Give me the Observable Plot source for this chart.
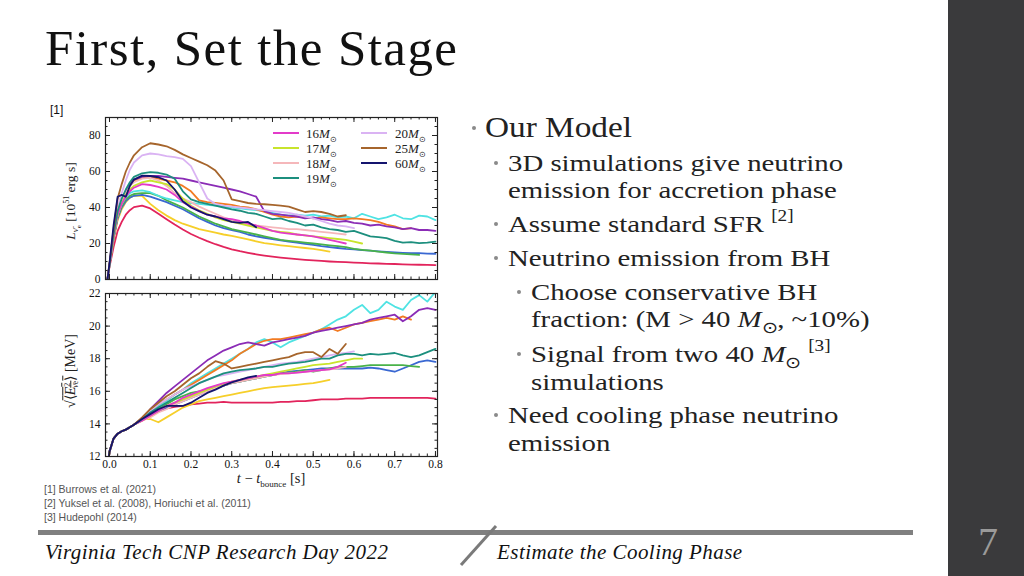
<!DOCTYPE html>
<html><head><meta charset="utf-8">
<script src="https://cdn.jsdelivr.net/npm/d3@7"></script>
<script src="https://cdn.jsdelivr.net/npm/@observablehq/plot@0.6"></script>
<style>
html,body{margin:0;padding:0;background:#fff;}
#slide{position:relative;width:1024px;height:576px;overflow:hidden;background:#fff;}
.abs{position:absolute;white-space:nowrap;}
.body{font-family:"Liberation Serif",serif;color:#222;line-height:1;transform-origin:0 0;}
.dot{position:absolute;width:4px;height:4px;border-radius:50%;background:#8a8a8a;}
.sup{position:relative;top:-11px;font-size:16px;}
.msub{position:relative;top:6px;font-size:16px;line-height:0;}
.leg{position:absolute;font-family:"Liberation Serif",serif;font-size:13px;color:#222;line-height:1;white-space:nowrap;}
.legline{position:absolute;height:0;width:26px;border-top:2px solid;}
.ref{position:absolute;font-family:"Liberation Sans",Arial,sans-serif;font-size:10.5px;color:#555;line-height:1;white-space:nowrap;}
</style></head>
<body><div id="slide">
  <div class="abs" style="left:948px;top:0;width:76px;height:576px;background:#3a3a3c"></div>
  <div class="abs" style="left:978px;top:522px;font-family:'Liberation Serif',serif;font-size:40px;color:#9a9a9a;line-height:1">7</div>
  <div class="abs" style="left:45px;top:23px;font-family:'Liberation Serif',serif;font-size:51px;letter-spacing:1.4px;color:#111;line-height:1">First, Set the Stage</div>
  <div class="ref" style="left:50px;top:104px;font-size:12px;color:#111">[1]</div>
  <div id="plots"></div>
  <div id="texts"></div>
  <div class="ref" style="left:44px;top:484px">[1] Burrows et al. (2021)</div>
  <div class="ref" style="left:44px;top:498px">[2] Yuksel et al. (2008), Horiuchi et al. (2011)</div>
  <div class="ref" style="left:44px;top:512px">[3] Hudepohl (2014)</div>
  <div class="abs" style="left:38px;top:530px;width:875px;height:5px;background:#808080"></div>
  <svg class="abs" style="left:0;top:0" width="1024" height="576"><line x1="496" y1="526" x2="461" y2="565" stroke="#7a7a7a" stroke-width="3"/></svg>
  <div class="abs" style="left:45px;top:542px;font-family:'Liberation Serif',serif;font-style:italic;font-size:21px;letter-spacing:0.45px;color:#111;line-height:1">Virginia Tech CNP Research Day 2022</div>
  <div class="abs" style="left:497px;top:542px;font-family:'Liberation Serif',serif;font-style:italic;font-size:21px;letter-spacing:0.45px;color:#111;line-height:1">Estimate the Cooling Phase</div>
</div>
<script>
// ---------- data ----------
const tGrid = [-0.005,0,0.01,0.02,0.03,0.04,0.05,0.06,0.08,0.10,0.12,0.14,0.16,0.18,0.20,0.22,0.24,0.26,0.28,0.30,0.32,0.34,0.36,0.38,0.40,0.42,0.44,0.46,0.48,0.50,0.52,0.54,0.56,0.58,0.60,0.62,0.64,0.66,0.68,0.70,0.72,0.74,0.76,0.78,0.80];

// luminosity [10^51 erg/s]
const L_red = [0,7,18,27,32,36,38.5,40.2,41,39.5,36.5,33.5,30.5,27.8,25.3,23.2,21.3,19.6,18.1,16.8,15.7,14.8,14,13.3,12.7,12.2,11.7,11.3,10.9,10.6,10.3,10,9.8,9.6,9.4,9.2,9,8.9,8.7,8.6,8.4,8.3,8.2,8.1,8];
const L_yellow = [0,8,22,33,39,43,45.5,46.5,46.5,42,38.5,35.5,33,31,29.5,28,27,26,25,24.2,23.3,22.3,21.2,20.2,19.6,19,18.5,18,17.5,17,16.3,15.5];
const L_blue = [0,8,23,34,40,43.5,45.5,46.5,47,46,44.5,43,41,39,36.5,34,32,30,28.5,27.5,26.5,25,24,23.2,22.5,21.8,21,20.5,19.8,19.2,18.5,18,17.5,17,16.8,16.3,16,15.6,15.3,15,14.8,14.7,14.6,14.4,14.3];
const L_green = [0,8,23,35,41,44.5,46.5,47.5,48,48,46.5,44,42,40,37.5,35,33,31,29.5,28,27,26,25,24,23,22,21.5,21,20.5,20,19.5,19,18.5,18,17,16.5,16,15.5,15,14.5,14.2,14,13.7];
const L_cyan = [0,8,24,36,42,45.5,48,49,49.5,48.5,46.5,45,44,43,42.5,42,41.5,41,40.5,40,39.5,39,38.5,38,37,36,35.5,36,35.5,36,35,35.5,34.5,35,34,36.5,35,33.5,34.5,36,34,33.5,35.5,35,33];
const L_orange = [0,8,24,37,44,49,53,55,56.5,57,56,55,54,52,49,44,43,42.5,42,41.5,40.5,40,39,37.5,36,35,34.5,35,34.5,34,34.5,34,33.5,33.5,34,33.5,33,32,30.5,29.5,28,28.5];
const L_purple = [0,8,24,37,44,49,53,55.5,57,57.5,57.5,57,56.5,56,55,54,53,52,51,50,49,47.5,46,38,36.5,36,35.5,35,34,34.5,33.5,33,32,32.5,31.5,31,30,30.5,29.5,29,28,28.5,27.5,27.5,27];
const L_18 = [0,8,24,36,43,48,52,54,56,56.5,55,52,48,45,43,40.5,38.5,36.5,34.5,33,32,31,30,29.5,29,28.5,28,28,27.5,27,26.5,26,25.5,25];
const L_17 = [0,8,24,36,42,47,50,52,54,55,54,53,50,45,41,38.5,36.5,34.5,33,32,31,30,29,28,27,26.5,26,25,24.5,24,23.5,23,22.5,22,21,20];
const L_16 = [0,8,24,36,42,46,49,51,53,52.5,51.5,50,47,43,40.5,38,36,35,34,33.5,32.5,31,30,28.5,27,26,25.5,25,24.5,24,23,22,21,20];
const L_20 = [0,8,26,40,48,55,61,65,69,70,69.5,68.5,68,67,63,54,45,42,41,40.5,40,39.5,39,38.5,38,37.5,37,36,35,34,32.5,31,30,29.5,28.5];
const L_19 = [0,8,25,38,45,50,54,57,59,59.6,59.3,58.3,56,49,44.5,43,42,41,40,39,38.2,37,36.5,35,33.5,34,32.5,31.5,30,30.5,29,28,27.5,26.5,27,25.5,24,23.5,23,21.5,20.5,20.8,20.2,20.5,21];
const L_25 = [0,9,28,45,53,60,65,69,73.5,75.7,75,74,72,69.5,67.5,65.5,63.5,60.5,55,44.5,43.5,42.5,42,41.8,41.5,41,40.5,39,37.5,38,37.5,36.5,35,35.7];
const L_60 = [0,9,30,46,47,46,52,55.5,57.7,57.5,56.8,55,50,43.5,40,38,36,35,33.5,32,31.5,32,29];

// rms energy [MeV]
const E_red = [11.2,12.3,13.1,13.4,13.55,13.65,13.8,13.95,14.3,14.6,14.8,14.95,15.05,15.1,15.2,15.25,15.3,15.3,15.35,15.3,15.3,15.3,15.3,15.3,15.3,15.35,15.35,15.4,15.4,15.45,15.5,15.5,15.5,15.55,15.55,15.55,15.6,15.6,15.6,15.6,15.6,15.6,15.6,15.6,15.55];
const E_yellow = [11.2,12.3,13.1,13.4,13.55,13.65,13.8,13.95,14.3,14.3,14.1,14.4,14.7,15.0,15.2,15.4,15.5,15.6,15.7,15.8,15.9,16.0,16.1,16.2,16.25,16.3,16.35,16.4,16.45,16.5,16.6,16.7];
const E_blue = [11.2,12.3,13.1,13.4,13.55,13.65,13.8,13.95,14.3,14.6,14.8,15.0,15.2,15.4,15.6,15.8,16.0,16.2,16.35,16.5,16.6,16.7,16.8,16.9,17.0,17.1,17.2,17.25,17.3,17.35,17.4,17.4,17.4,17.4,17.4,17.4,17.45,17.4,17.3,17.2,17.4,17.6,17.8,17.9,17.8];
const E_green = [11.2,12.3,13.1,13.4,13.55,13.65,13.8,13.95,14.3,14.6,14.9,15.2,15.5,15.7,15.9,16.0,16.1,16.2,16.35,16.5,16.6,16.7,16.8,16.9,17.0,17.1,17.15,17.2,17.3,17.2,17.3,17.4,17.5,17.5,17.5,17.55,17.6,17.6,17.6,17.6,17.6,17.55,17.5];
const E_cyan = [11.2,12.3,13.1,13.4,13.55,13.65,13.8,13.95,14.3,14.8,15.1,15.4,15.8,16.1,16.5,16.8,17.1,17.4,17.7,18.0,18.3,18.6,19.0,19.2,19.0,18.7,19.0,19.2,19.4,19.6,19.8,20.1,20.4,20.6,21.0,21.3,20.8,21.0,21.5,21.2,21.0,21.6,21.9,21.5,22.1];
const E_orange = [11.2,12.3,13.1,13.4,13.55,13.65,13.8,13.95,14.3,14.8,15.2,15.5,15.8,16.1,16.4,16.7,17.0,17.3,17.6,17.9,18.3,18.6,18.9,19.1,19.2,19.2,19.3,19.4,19.5,19.6,19.8,19.9,19.7,19.9,20.1,20.2,20.3,20.4,20.5,20.4,20.6,20.4];
const E_purple = [11.2,12.3,13.1,13.4,13.55,13.65,13.8,13.95,14.3,14.9,15.4,15.9,16.3,16.7,17.1,17.5,17.9,18.2,18.5,18.7,18.9,19.0,18.9,18.8,19.0,19.1,19.2,19.3,19.4,19.6,19.7,19.8,19.9,20.0,20.1,20.2,20.4,20.5,20.6,20.7,20.3,20.6,21.0,21.1,21.0];
const E_18 = [11.2,12.3,13.1,13.4,13.55,13.65,13.8,13.95,14.2,14.4,14.7,14.9,15.2,15.4,15.6,15.8,16.0,16.2,16.35,16.5,16.6,16.7,16.8,16.9,17.0,17.05,17.1,17.15,17.2,17.25,17.3,17.35,17.4,17.5];
const E_17 = [11.2,12.3,13.1,13.4,13.55,13.65,13.8,13.95,14.2,14.5,14.8,15.1,15.3,15.5,15.7,15.9,16.1,16.3,16.45,16.6,16.7,16.8,16.9,17.0,17.1,17.2,17.3,17.4,17.5,17.6,17.65,17.7,17.8,17.9,18.0,18.0];
const E_16 = [11.2,12.3,13.1,13.4,13.55,13.65,13.8,13.95,14.2,14.5,14.8,15.1,15.3,15.6,15.8,16.0,16.2,16.35,16.5,16.6,16.7,16.8,16.9,17.0,17.0,17.1,17.1,17.15,17.2,17.25,17.3,17.35,17.5,17.75];
const E_20 = [11.2,12.3,13.1,13.4,13.55,13.65,13.8,13.95,14.3,14.8,15.2,15.5,15.8,16.1,16.3,16.5,16.7,16.9,17.0,17.1,17.2,17.3,17.4,17.5,17.6,17.7,17.75,17.8,17.9,18.0,18.1,18.2,18.3,18.35,18.45];
const E_19 = [11.2,12.3,13.1,13.4,13.55,13.65,13.8,13.95,14.3,14.7,15.0,15.3,15.6,15.9,16.2,16.5,16.7,16.9,17.1,17.2,17.3,17.35,17.4,17.5,17.5,17.6,17.7,17.75,17.8,17.9,18.0,18.0,18.2,18.3,18.3,18.2,18.3,18.25,18.3,18.35,18.2,18.1,18.2,18.4,18.6];
const E_25 = [11.2,12.3,13.1,13.4,13.55,13.65,13.8,13.95,14.4,14.9,15.3,15.7,16.0,16.4,16.8,17.1,17.5,17.85,17.7,17.4,17.5,17.6,17.7,17.8,17.9,18.0,18.1,18.3,18.4,18.4,18.1,18.6,18.3,18.9];
const E_60 = [11.2,12.3,13.1,13.4,13.55,13.65,13.8,13.95,14.3,14.6,14.9,15.1,15.1,15.1,15.3,15.6,15.9,16.1,16.35,16.55,16.7,16.85,16.95];

const seriesLabels = [null,null,null,null,null,null,null,"18","17","16","20","19","25","60"];
const seriesColors = ["#e2245c","#f6cf2a","#3a68d2","#49b24a","#4fe3e3","#f27b22","#8b2cb6","#f5b7ba","#c8e42c","#e33bc9","#dab3f3","#1c8f7e","#a6652c","#14146e"];
const seriesL = [L_red,L_yellow,L_blue,L_green,L_cyan,L_orange,L_purple,L_18,L_17,L_16,L_20,L_19,L_25,L_60];
const seriesE = [E_red,E_yellow,E_blue,E_green,E_cyan,E_orange,E_purple,E_18,E_17,E_16,E_20,E_19,E_25,E_60];

const xTicks = [0.0,0.1,0.2,0.3,0.4,0.5,0.6,0.7,0.8];
const yTicksL = [0,20,40,60,80];
const yTicksE = [12,14,16,18,20,22];

// ---------- helpers ----------
const rows = arr => arr.map((v,i) => ({t: tGrid[i], v}));
const xMinor = d3.range(0, 81, 2).map(d => d/100);
const yMinorL = d3.range(0, 91, 5);
const yMinorE = d3.range(24, 45, 1).map(d => d/2);
const W = 410, ML = 65, MR = 13, FW = W - ML - MR;
const xDom = [-0.0098, 0.805];
const fontStyle = {fontFamily: "'Liberation Serif', serif", fontSize: "11.5px", color: "#111", background: "transparent", overflow: "visible"};

function frameTicks(FH, yMinor, yMajor) {
  const k = "#222";
  return [
    Plot.tickX(xMinor, {x: d => d, insetTop: FH - 2.5, stroke: k}),
    Plot.tickX(xTicks, {x: d => d, insetTop: FH - 5, stroke: k}),
    Plot.tickX(xMinor, {x: d => d, insetBottom: FH - 2.5, stroke: k}),
    Plot.tickX(xTicks, {x: d => d, insetBottom: FH - 5, stroke: k}),
    Plot.tickY(yMinor, {y: d => d, insetRight: FW - 2.5, stroke: k}),
    Plot.tickY(yMajor, {y: d => d, insetRight: FW - 5, stroke: k}),
    Plot.tickY(yMinor, {y: d => d, insetLeft: FW - 2.5, stroke: k}),
    Plot.tickY(yMajor, {y: d => d, insetLeft: FW - 5, stroke: k}),
    Plot.frame({stroke: "#222", strokeWidth: 1.2})
  ];
}

// top panel
const H1 = 171, MT1 = 5, MB1 = 4, FH1 = H1 - MT1 - MB1;
const topPlot = Plot.plot({
  width: W, height: H1, marginLeft: ML, marginRight: MR, marginTop: MT1, marginBottom: MB1,
  x: {domain: xDom, axis: null},
  y: {domain: [0, 90]},
  style: fontStyle,
  marks: [
    ...seriesL.map((s, i) => Plot.line(rows(s), {x: "t", y: "v", stroke: seriesColors[i], strokeWidth: 1.8, clip: true})),
    Plot.axisY({ticks: yTicksL, tickSize: 0, tickPadding: 5, label: null}),
    ...frameTicks(FH1, yMinorL, yTicksL)
  ]
});

// bottom panel
const H2 = 207, MT2 = 8, MB2 = 36, FH2 = H2 - MT2 - MB2;
const botPlot = Plot.plot({
  width: W, height: H2, marginLeft: ML, marginRight: MR, marginTop: MT2, marginBottom: MB2,
  x: {domain: xDom},
  y: {domain: [12, 22]},
  style: fontStyle,
  marks: [
    ...seriesE.map((s, i) => Plot.line(rows(s), {x: "t", y: "v", stroke: seriesColors[i], strokeWidth: 1.8, clip: true})),
    Plot.axisY({ticks: yTicksE, tickSize: 0, tickPadding: 5, label: null}),
    Plot.axisX({ticks: xTicks, tickSize: 0, tickPadding: 3, tickFormat: d3.format(".1f"), label: null}),
    ...frameTicks(FH2, yMinorE, yTicksE)
  ]
});

const plots = document.getElementById("plots");
function place(el, left, topPx) {
  const d = document.createElement("div");
  d.className = "abs"; d.style.left = left + "px"; d.style.top = topPx + "px";
  d.appendChild(el); plots.appendChild(d);
}
place(topPlot, 40, 112);
place(botPlot, 40, 285);

// axis labels and legend
const texts = document.getElementById("texts");
function add(html, style, cls) {
  const d = document.createElement("div");
  d.className = cls || "abs"; d.setAttribute("style", style); d.innerHTML = html; texts.appendChild(d);
  return d;
}
add('<i>L</i><sub style="font-size:9px"><i>ν̄</i><sub style="font-size:7px">e</sub></sub> [10<sup style="font-size:8px">51</sup> erg s]',
  "position:absolute;left:73px;top:201px;transform:translate(-50%,-50%) rotate(-90deg);font-family:'Liberation Serif',serif;font-size:13.5px;color:#222;white-space:nowrap;line-height:1");
add('√<span style="text-decoration:overline">⟨<i>E</i><sup style="font-size:8px">2</sup><sub style="font-size:8px;margin-left:-5px"><i>ν̄</i>e</sub>⟩</span> [MeV]',
  "position:absolute;left:72px;top:371px;transform:translate(-50%,-50%) rotate(-90deg);font-family:'Liberation Serif',serif;font-size:14px;color:#222;white-space:nowrap;line-height:1");
add('<i>t</i> − <i>t</i><sub style="font-size:9px">bounce</sub> [s]',
  "position:absolute;left:271px;top:480px;transform:translate(-50%,-50%);font-family:'Liberation Serif',serif;font-size:14.5px;color:#222;white-space:nowrap;line-height:1");

const legendPos = [
  {lab: "16", col: 0, row: 0}, {lab: "17", col: 0, row: 1}, {lab: "18", col: 0, row: 2}, {lab: "19", col: 0, row: 3},
  {lab: "20", col: 1, row: 0}, {lab: "25", col: 1, row: 1}, {lab: "60", col: 1, row: 2}
];
legendPos.forEach(p => {
  const i = seriesLabels.indexOf(p.lab);
  const lx = p.col ? 361 : 273, tx = p.col ? 395 : 306, y = 133 + p.row * 15;
  add("", `left:${lx}px;top:${y - 1}px;border-color:${seriesColors[i]}`, "legline");
  add(`${p.lab}<i>M</i><sub style="font-size:8px">⊙</sub>`, `left:${tx}px;top:${y - 6}px`, "leg");
});

// bullet text
const bulletLines = [
  {x: 485, base: 137, size: 30, sx: 1.11, dot: true, html: "Our Model"},
  {x: 508, base: 171, size: 24, dot: true, html: "3D simulations give neutrino"},
  {x: 508, base: 198, size: 24, html: "emission for accretion phase"},
  {x: 508, base: 232, size: 24, dot: true, html: 'Assume standard SFR <span class="sup">[2]</span>'},
  {x: 508, base: 266, size: 24, dot: true, html: "Neutrino emission from BH"},
  {x: 531, base: 300, size: 24, dot: true, html: "Choose conservative BH"},
  {x: 531, base: 327, size: 24, html: 'fraction: (M &gt; 40 <i>M</i><span class="msub">⊙</span>, ~10%)'},
  {x: 531, base: 362, size: 24, dot: true, html: 'Signal from two 40 <i>M</i><span class="msub">⊙</span> <span class="sup">[3]</span>'},
  {x: 531, base: 390, size: 24, html: "simulations"},
  {x: 508, base: 423, size: 24, dot: true, html: "Need cooling phase neutrino"},
  {x: 508, base: 451, size: 24, html: "emission"}
];
bulletLines.forEach(b => {
  const sx = b.sx || 1.2;
  add(b.html, `left:${b.x}px;top:${(b.base - 0.8375 * b.size).toFixed(1)}px;font-size:${b.size}px;transform:scaleX(${sx})`, "abs body");
  if (b.dot) {
    const big = b.size > 26;
    add("", `left:${b.x - (big ? 13 : 14.5)}px;top:${b.base - (big ? 11 : 10)}px`, "dot");
  }
});
</script>
</body></html>
